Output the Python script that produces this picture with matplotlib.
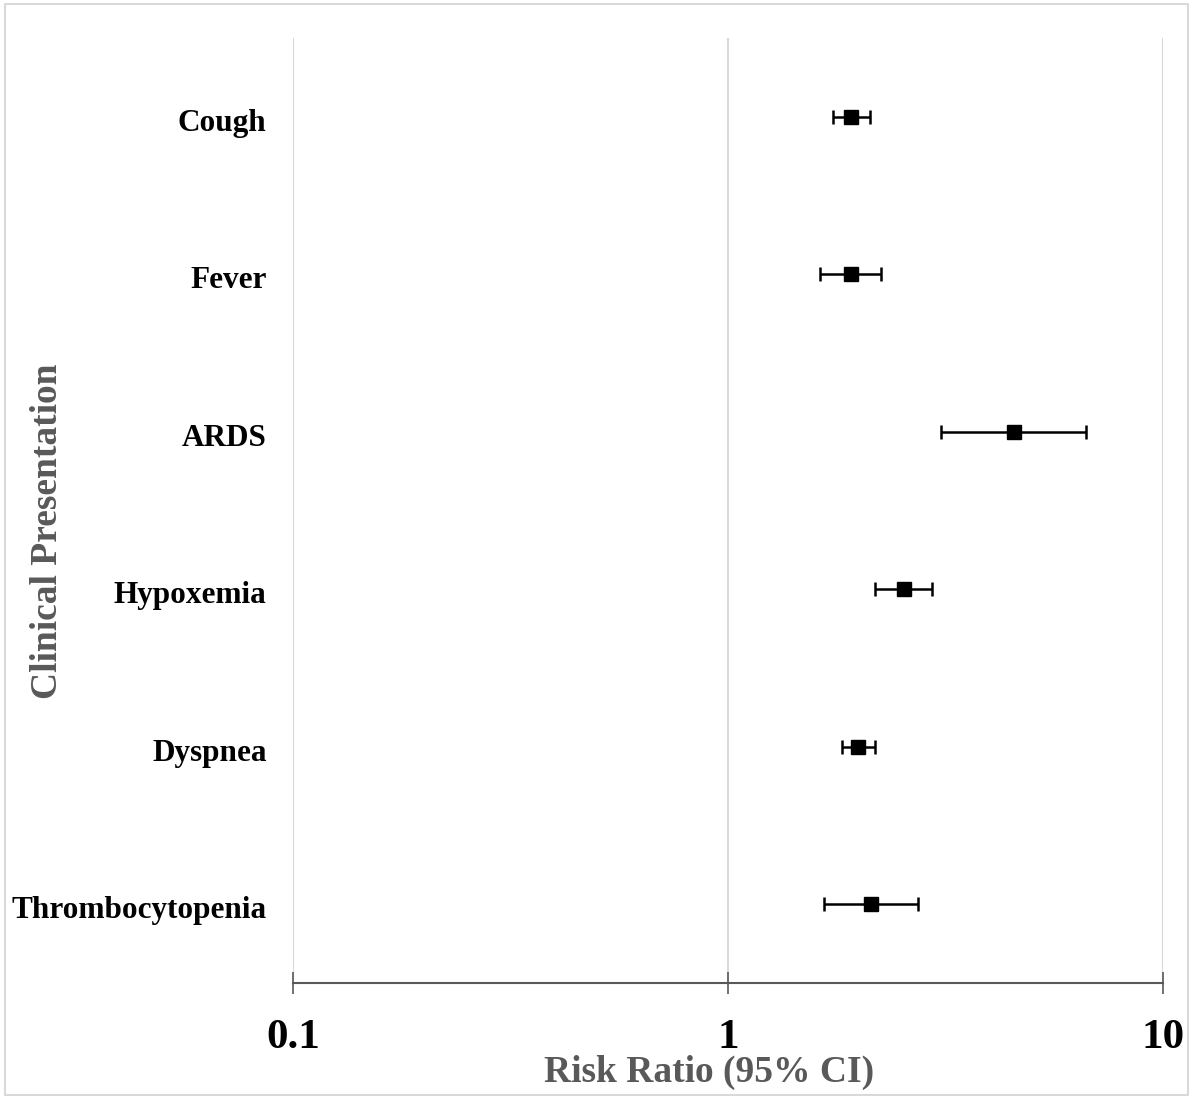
import numpy as np
import matplotlib
matplotlib.use("Agg")
import matplotlib.pyplot as plt
import matplotlib.transforms as mtransforms
from matplotlib.patches import Rectangle

plt.rcParams['font.family'] = ['Liberation Serif', 'DejaVu Serif']

# values (risk ratio with 95% CI)
labels = ['Cough', 'Fever', 'ARDS', 'Hypoxemia', 'Dyspnea', 'Thrombocytopenia']
rr = [1.92, 1.92, 4.54, 2.54, 1.99, 2.13]
ci_low = [1.74, 1.63, 3.09, 2.18, 1.83, 1.66]
ci_high = [2.12, 2.25, 6.65, 2.94, 2.18, 2.73]
xticks = [0.1, 1, 10]
xtick_labels = ['0.1', '1', '10']

W, H = 1193, 1099
fig = plt.figure(figsize=(W / 100, H / 100), dpi=100)
ax = fig.add_axes([293 / W, (H - 983) / H, (1163 - 293) / W, (983 - 38) / H])

ypos = np.arange(len(labels))
rr = np.array(rr)
err = [rr - np.array(ci_low), np.array(ci_high) - rr]
ax.errorbar(rr, ypos, xerr=err, fmt='s', color='black', ecolor='black',
            markersize=10, elinewidth=1.8, capsize=5, capthick=1.8, zorder=3)

ax.set_xscale('log')
ax.set_xlim(0.1, 10)
ax.set_ylim(len(labels) - 0.5, -0.5)
ax.set_xticks(xticks)
ax.set_xticklabels(xtick_labels, fontsize=31, fontweight='bold')
ax.xaxis.set_minor_locator(matplotlib.ticker.NullLocator())
ax.set_yticks(ypos)
ax.set_yticklabels(labels, fontsize=22.5, fontweight='bold')
ax.tick_params(axis='y', length=0, pad=19)
ax.tick_params(axis='x', direction='inout', length=16, width=1.2,
               color='#595959', pad=18)

# nudge category labels down a few pixels
shift = mtransforms.ScaledTranslation(0, -3 / 100, fig.dpi_scale_trans)
for t in ax.get_yticklabels():
    t.set_transform(t.get_transform() + shift)

for s in ['top', 'right', 'left']:
    ax.spines[s].set_visible(False)
ax.spines['bottom'].set_color('#595959')
ax.spines['bottom'].set_linewidth(1.5)

for x in xticks:
    ax.axvline(x, color='#d9d9d9', linewidth=1.5, zorder=0)

fig.text(709 / W, 1 - 1072 / H, 'Risk Ratio (95% CI)',
         ha='center', va='center', fontsize=27, fontweight='bold', color='#595959')
fig.text(48 / W, 1 - 531 / H, 'Clinical Presentation', rotation=90,
         ha='center', va='center', fontsize=27, fontweight='bold', color='#595959')

fig.patches.append(Rectangle((5 / W, 4 / H), (W - 10) / W, (H - 8) / H,
                             transform=fig.transFigure, fill=False,
                             edgecolor='#d9d9d9', linewidth=1.5))

fig.savefig('out.png', dpi=100)
